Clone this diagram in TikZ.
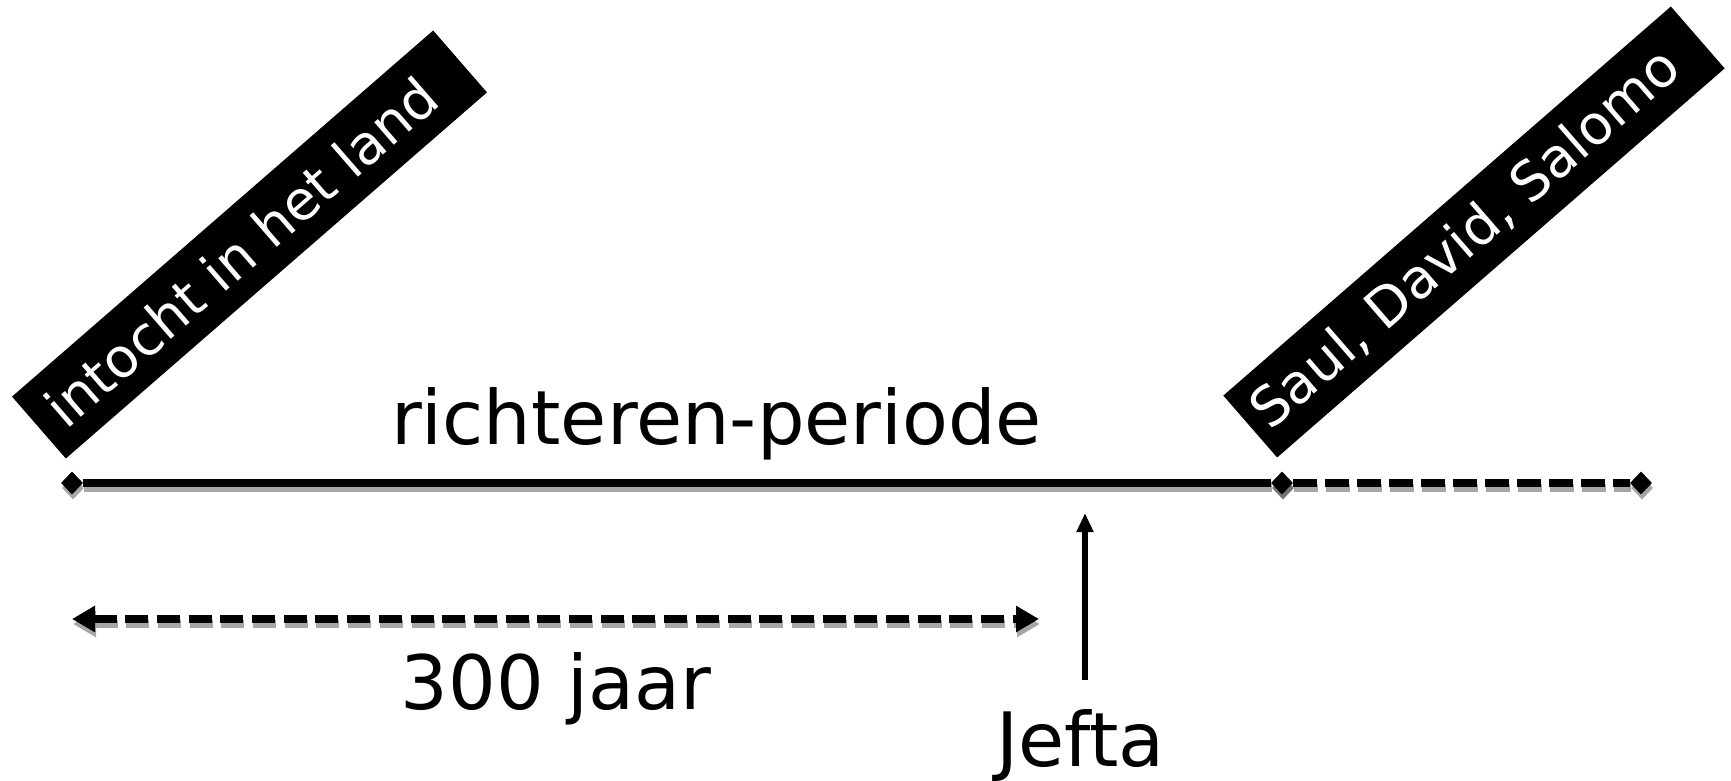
\documentclass[tikz,border=0pt]{standalone}
\usepackage{fontspec}
\setmainfont{DejaVu Sans}
\usetikzlibrary{arrows.meta,shapes.geometric}

\tikzset{
  big/.style={font=\fontsize{75}{90}\selectfont, inner sep=0pt, anchor=base},
  banner/.style={fill=black, text=white, rotate=41, inner sep=0pt,
    minimum height=82pt, font=\fontsize{54.5}{62}\selectfont},
  tick/.style={diamond, fill=black, inner sep=0pt, minimum width=22pt,
    minimum height=23pt},
  tickshadow/.style={diamond, fill=black!35, inner sep=0pt, minimum width=22pt,
    minimum height=23pt},
  bar/.style={line width=7.5pt, black},
  barshadow/.style={line width=7.5pt, black!35},
  dashes/.style={dash pattern=on 24pt off 8pt},
  span/.style={line width=7.5pt, dash pattern=on 23pt off 8.7pt,
    {Triangle[length=23pt,width=25pt]}-{Triangle[length=23pt,width=25pt]}},
  pointer/.style={line width=6pt, -{Triangle[length=19pt,width=16pt]}}
}
% trailing space that moves a banner text a little towards its lower end
\newcommand{\bannerpad}{\hspace*{22pt}}

\begin{document}
\begin{tikzpicture}[x=1pt,y=-1pt]
\useasboundingbox (0,0) rectangle (1731,781);

% period banners
\node[banner, minimum width=558pt] (entry) at (249.5,244.5) {intocht in het land\bannerpad};
\node[banner, minimum width=593pt] (kings) at (1474,232) {Saul, David, Salomo\bannerpad};

% shadows of the time line
\node[tickshadow] (Ls) at (73,488) {};
\node[tickshadow, fill=black!55] (Ms) at (1283,488) {};
\node[tickshadow] (Rs) at (1642,488) {};
\draw[barshadow] (Ls) -- (Ms);
\draw[barshadow, dashes] (Ms) -- (Rs);

% time line
\node[tick] (L) at (72,483) {};
\node[tick] (M) at (1282,483) {};
\node[tick] (R) at (1641,483) {};
\draw[bar] (L) -- (M);
\draw[bar, dashes] (M) -- (R);

% 300-year span
\coordinate (s1) at (72,619);
\coordinate (s2) at (1039,619);
\draw[span, black!35] ([xshift=1pt,yshift=-5pt]s1) -- ([xshift=1pt,yshift=-5pt]s2);
\draw[span, black] (s1) -- (s2);

% Jefta marker
\coordinate (jb) at (1085,680);
\coordinate (jt) at (1085,513);
\draw[pointer] (jb) -- (jt);

% labels
\node[big] (period) at (716.5,444) {richteren-periode};
\node[big] (years) at (556,709) {300 jaar};
\node[big] (jefta) at (1080.5,766) {Jefta};
\end{tikzpicture}
\end{document}
